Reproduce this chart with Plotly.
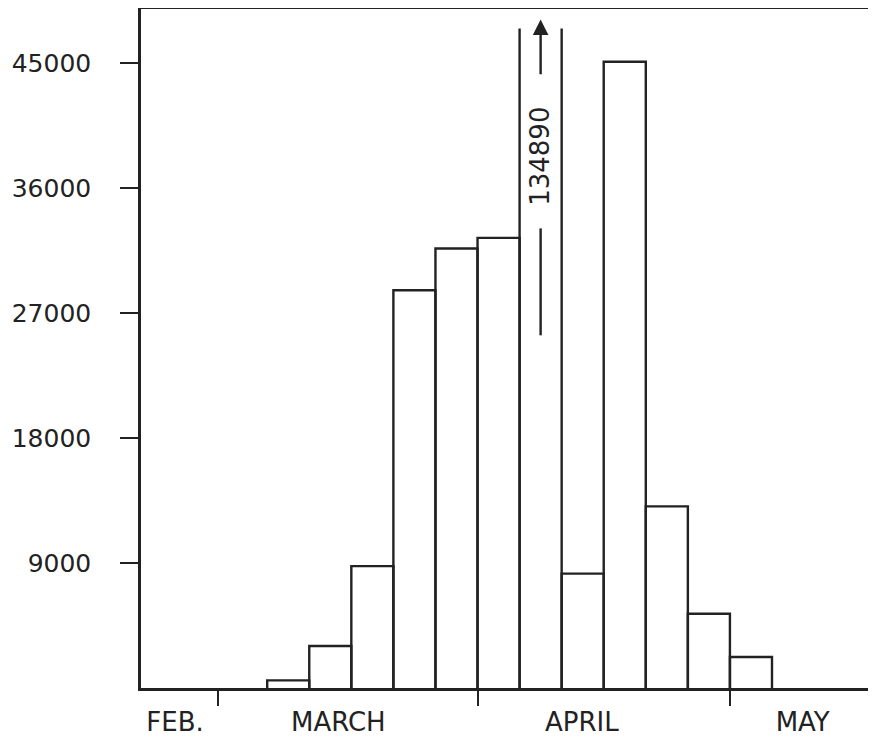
import plotly.graph_objects as go

# ---- data ----
bin_index = list(range(17))
counts = [0, 0, 0, 550, 3020, 8780, 28650, 31650, 32420, 134890,
          8240, 45100, 13080, 5350, 2230, 0, 0]
y_ticks = [9000, 18000, 27000, 36000, 45000]
y_tick_labels = ["9000", "18000", "27000", "36000", "45000"]
month_ticks = [1.82, 8.0, 14.0]
month_label_pos = [0.81, 4.69, 10.48, 15.73]
month_labels = ["FEB.", "MARCH", "APRIL", "MAY"]

Y_MAX = 48900
CAP = 47500          # where an off-scale bar is broken off
INK = "#222222"
FONT = "DejaVu Sans"

# build the outline of the histogram
xs, ys = [], []
off_scale = []
for i, v in zip(bin_index, counts):
    if v <= 0:
        continue
    if v <= CAP:
        xs += [i, i, i + 1, i + 1, None]
        ys += [0, v, v, 0, None]
    else:
        xs += [i, i, None, i + 1, i + 1, None]
        ys += [0, CAP, None, 0, CAP, None]
        off_scale.append((i, v))

fig = go.Figure()
fig.add_trace(go.Scatter(x=xs, y=ys, mode="lines",
                         line=dict(color=INK, width=2.4),
                         hoverinfo="skip", showlegend=False,
                         connectgaps=False, cliponaxis=False))
# invisible trace to carry the month-label axis
fig.add_trace(go.Scatter(x=month_label_pos, y=[0] * len(month_label_pos),
                         xaxis="x2", mode="markers",
                         marker=dict(opacity=0), showlegend=False,
                         hoverinfo="skip"))

for i, v in off_scale:
    xc = i + 0.5
    # lower arrow shaft segment
    fig.add_trace(go.Scatter(x=[xc, xc], y=[25400, 33100], mode="lines",
                             line=dict(color=INK, width=2.4),
                             showlegend=False, hoverinfo="skip"))
    # upper shaft with arrowhead
    fig.add_annotation(x=xc, y=48150, ax=xc, ay=44100, xref="x", yref="y",
                       axref="x", ayref="y", showarrow=True, arrowhead=2,
                       arrowsize=1.3, arrowwidth=2.4, arrowcolor=INK, text="")
    fig.add_annotation(x=xc, y=38300, xref="x", yref="y", text=str(v),
                       showarrow=False, textangle=-90,
                       font=dict(family=FONT, size=26, color=INK))

axis_common = dict(showgrid=False, zeroline=False, automargin=False)
fig.update_layout(
    width=868, height=730,
    margin=dict(l=133, r=6, t=1, b=50),
    paper_bgcolor="white", plot_bgcolor="white",
    xaxis=dict(range=[0, 17.33], tickvals=month_ticks,
               ticktext=["", "", ""], ticks="outside", ticklen=15,
               tickwidth=2, tickcolor=INK, showline=True, mirror=True,
               linecolor=INK, linewidth=2.5, **axis_common),
    xaxis2=dict(range=[0, 17.33], overlaying="x", side="bottom",
                anchor="y", tickvals=month_label_pos, ticktext=month_labels,
                ticks="", showline=False, ticklabelstandoff=16,
                tickfont=dict(family=FONT, size=26, color=INK),
                **axis_common),
    yaxis=dict(range=[0, Y_MAX], tickvals=y_ticks, ticktext=y_tick_labels,
               ticks="outside", ticklen=18, tickwidth=2, tickcolor=INK,
               showline=True, mirror=True, linecolor=INK, linewidth=2.5,
               ticklabelstandoff=24,
               tickfont=dict(family=FONT, size=25, color=INK),
               **axis_common),
    showlegend=False,
)

fig.write_html("out.html")
